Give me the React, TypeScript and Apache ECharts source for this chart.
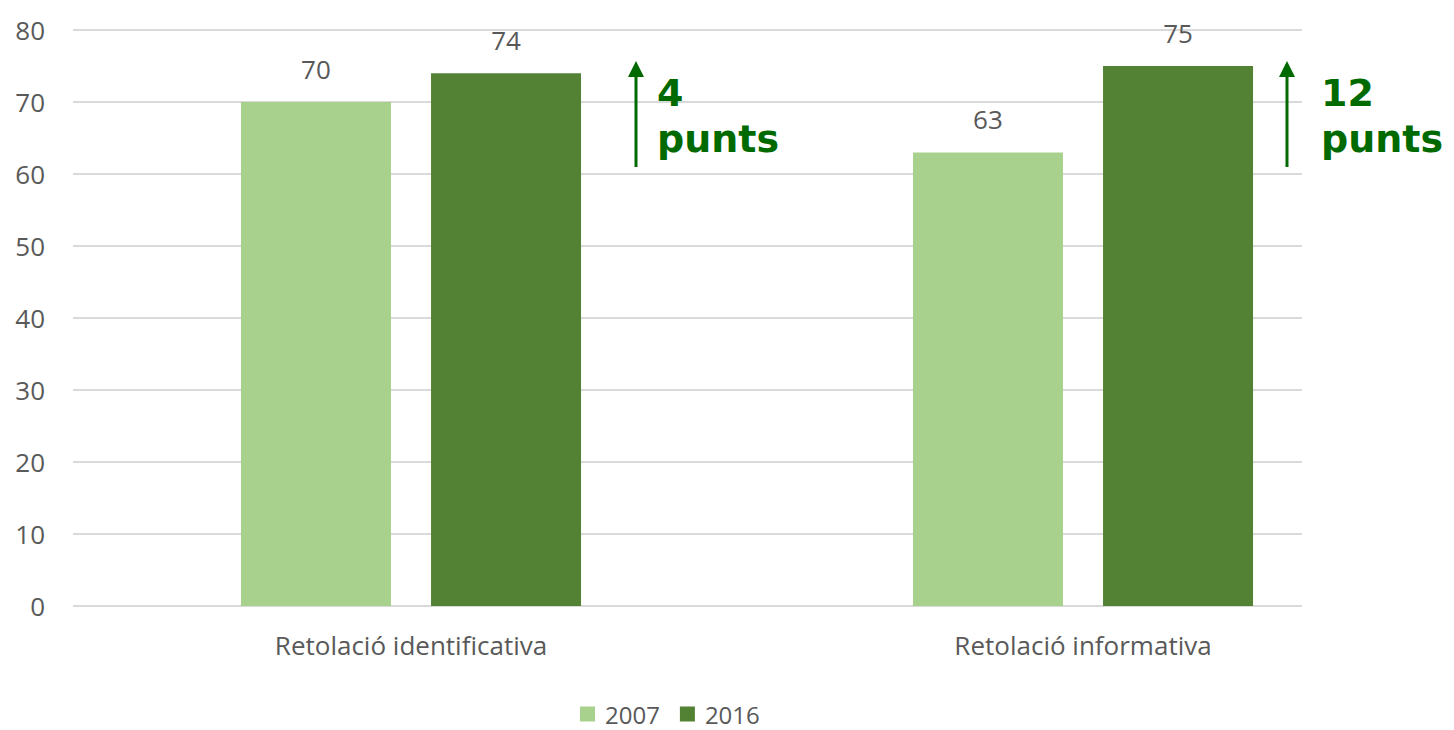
import React, { useEffect, useRef } from "react";
import * as echarts from "echarts";

const categories = ["Retolació identificativa", "Retolació informativa"];
const seriesNames = ["2007", "2016"];
const values2007 = [70, 63];
const values2016 = [74, 75];
const yTicks = [0, 10, 20, 30, 40, 50, 60, 70, 80];

const LIGHT = "#A9D18E";
const DARK = "#548235";
const TEXT = "#595959";
const ANNOT = "#006A00";
const FONT = "'Open Sans', sans-serif";

export default function App() {
  const ref = useRef<HTMLDivElement>(null);
  useEffect(() => {
    if (!ref.current) return;
    const chart = echarts.init(ref.current, null, { renderer: "svg" });
    const diffs = values2016.map((v, i) => v - values2007[i]);
    const yMax = yTicks[yTicks.length - 1];
    const arrow = (x: number, label: string, tx: number) => [
      { type: "line", z: 100, shape: { x1: x, y1: 74, x2: x, y2: 167 }, style: { stroke: ANNOT, lineWidth: 3 } },
      { type: "polygon", z: 100, shape: { points: [[x, 61], [x - 8, 77], [x + 8, 77]] }, style: { fill: ANNOT } },
      {
        type: "text", z: 100, x: tx, y: 112,
        style: { text: label, fill: ANNOT, font: "bold 38px 'DejaVu Sans'", textVerticalAlign: "bottom" },
      },
      {
        type: "text", z: 100, x: tx, y: 158,
        style: { text: "punts", fill: ANNOT, font: "bold 38px 'DejaVu Sans'", textVerticalAlign: "bottom" },
      },
    ];
    const barLabel = { show: true, position: "top", distance: 20, color: TEXT, fontSize: 26, fontFamily: FONT };
    chart.setOption({
      animation: false,
      textStyle: { fontFamily: FONT },
      legend: {
        top: 702,
        left: 580,
        padding: 0,
        data: seriesNames,
        itemWidth: 15,
        itemHeight: 15,
        itemGap: 20,
        icon: "rect",
        textStyle: { color: TEXT, fontSize: 24, lineHeight: 24, fontFamily: FONT, padding: [0, 0, 0, 5] },
      },
      grid: [
        { left: 75, right: 35, top: 30, height: 576 },
        { left: 73, right: 152, top: 30, height: 576 },
      ],
      xAxis: [
        {
          type: "category",
          gridIndex: 0,
          data: categories,
          axisLine: { show: false },
          axisTick: { show: false },
          axisLabel: { color: TEXT, fontSize: 26, margin: 26, fontFamily: FONT },
        },
        { type: "value", gridIndex: 1, show: false, min: 0, max: 1 },
      ],
      yAxis: [
        { type: "value", gridIndex: 0, min: 0, max: yMax, interval: 10, show: false },
        {
          type: "value",
          gridIndex: 1,
          min: 0,
          max: yMax,
          interval: 10,
          axisLine: { show: false },
          axisTick: { show: false },
          axisLabel: { color: TEXT, fontSize: 26, margin: 28, fontFamily: FONT },
          splitLine: { lineStyle: { color: "#D9D9D9", width: 2 } },
        },
      ],
      series: [
        {
          name: seriesNames[0],
          type: "bar",
          xAxisIndex: 0,
          yAxisIndex: 0,
          data: values2007,
          barWidth: 150,
          barGap: "26.7%",
          itemStyle: { color: LIGHT },
          label: barLabel,
        },
        {
          name: seriesNames[1],
          type: "bar",
          xAxisIndex: 0,
          yAxisIndex: 0,
          data: values2016,
          barWidth: 150,
          barGap: "26.7%",
          itemStyle: { color: DARK },
          label: barLabel,
        },
      ],
      graphic: [
        ...arrow(636, String(diffs[0]), 657),
        ...arrow(1287, String(diffs[1]), 1321),
      ],
    });
    return () => chart.dispose();
  }, []);
  return (
    <div
      ref={ref}
      style={{ position: "absolute", left: 0, top: 0, width: 1454, height: 730 }}
    />
  );
}
